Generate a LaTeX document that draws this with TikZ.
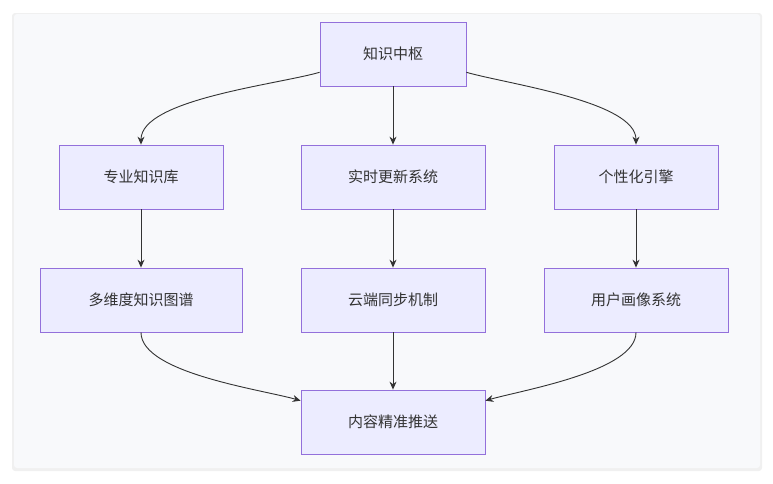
\documentclass[tikz,border=0pt]{standalone}
\usepackage{fontspec}
\newfontfamily\cjk{Noto Sans CJK SC}
\usetikzlibrary{arrows.meta}
\definecolor{boxfill}{HTML}{ECECFF}
\definecolor{boxline}{HTML}{9370DB}
\definecolor{edge}{HTML}{333333}
\definecolor{card}{HTML}{F8F9FB}
\begin{document}
\begin{tikzpicture}[x=1pt, y=-1pt,
  box/.style={draw=boxline, fill=boxfill, line width=0.8pt, minimum height=64pt,
    inner sep=0pt, font=\cjk\fontsize{15}{18}\selectfont, text=edge},
  link/.style={draw=edge, line width=0.9pt, -{Stealth[length=8pt,width=7pt]}}]

% card background
\useasboundingbox (0,0) rectangle (773,483);
\fill[black!6, rounded corners=3pt] (12,13) rectangle (762,471);
\fill[card, rounded corners=3pt] (14,14) rectangle (760,468);

% top level
\node[box, minimum width=146pt] at (393, 54) (hub) {知识中枢};

% second level
\node[box, minimum width=164pt] at (141,177) (base) {专业知识库};
\node[box, minimum width=184pt] at (393,177) (live) {实时更新系统};
\node[box, minimum width=164pt] at (636,177) (pers) {个性化引擎};

% third level
\node[box, minimum width=202pt] at (141,300) (graph) {多维度知识图谱};
\node[box, minimum width=184pt] at (393,300) (cloud) {云端同步机制};
\node[box, minimum width=184pt] at (636,300) (user) {用户画像系统};

% output
\node[box, minimum width=184pt] at (393,422) (push) {内容精准推送};

% connectors
\draw[link] (hub.194) to[out=196, in=90, looseness=0.6] (base.north);
\draw[link] (hub) -- (live);
\draw[link] (hub.-14) to[out=-16, in=90, looseness=0.6] (pers.north);
\draw[link] (base) -- (graph);
\draw[link] (live) -- (cloud);
\draw[link] (pers) -- (user);
\draw[link] (graph.south) to[out=-90, in=164, looseness=0.6] (push.167);
\draw[link] (cloud) -- (push);
\draw[link] (user.south) to[out=-90, in=16, looseness=0.6] (push.13);

\end{tikzpicture}
\end{document}
